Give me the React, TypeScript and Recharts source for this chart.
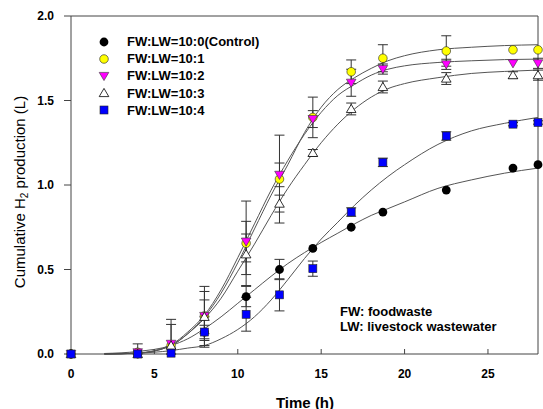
import React from 'react'
import { ComposedChart, Line, Scatter, XAxis, YAxis, ErrorBar, ReferenceLine } from 'recharts'

// sampling times (h)
const times = [0, 4, 6, 8, 10.5, 12.5, 14.5, 16.8, 18.7, 22.5, 26.5, 28]

// measured cumulative H2 (L)
const control = [0, 0, 0.03, 0.13, 0.34, 0.5, 0.625, 0.75, 0.84, 0.97, 1.1, 1.12]
const fw1 = [0, 0.01, 0.05, 0.225, 0.655, 1.035, 1.4, 1.67, 1.75, 1.793, 1.8, 1.8]
const fw2 = [0, 0.01, 0.06, 0.225, 0.665, 1.06, 1.39, 1.605, 1.686, 1.714, 1.72, 1.72]
const fw3 = [0, 0, 0.05, 0.22, 0.59, 0.89, 1.19, 1.45, 1.58, 1.63, 1.65, 1.65]
const fw4 = [0, 0, 0.005, 0.13, 0.235, 0.35, 0.505, 0.84, 1.134, 1.29, 1.36, 1.37]

// error bar half-lengths
const controlErr = [0, 0, 0, 0.04, 0.06, 0.06, 0, 0, 0, 0, 0, 0]
const fw1Err = [0, 0.05, 0.155, 0.175, 0.25, 0.26, 0.12, 0.07, 0.08, 0.09, 0, 0]
const fw2Err = [0, 0, 0.115, 0.145, 0.12, 0.07, 0.05, 0.08, 0.03, 0.03, 0, 0.03]
const fw3Err = [0, 0, 0, 0.1, 0.12, 0.05, 0.02, 0.035, 0.035, 0.035, 0.02, 0.03]
const fw4Err = [0, 0, 0, 0.09, 0.1, 0.095, 0.045, 0.025, 0.025, 0.025, 0.01, 0.01]

// fitted curves
const fitTimes = [2, 4, 6, 7, 8, 9, 10, 11, 12, 13, 14, 15, 16, 17, 18, 19, 20, 22, 24, 26, 28]
const controlFit = [0.003, 0.015, 0.05, 0.09, 0.15, 0.22, 0.3, 0.38, 0.46, 0.535, 0.6, 0.66, 0.715, 0.77, 0.82, 0.86, 0.9, 0.98, 1.03, 1.07, 1.1]
const fw1Fit = [0, 0.005, 0.05, 0.12, 0.22, 0.36, 0.54, 0.74, 0.94, 1.12, 1.31, 1.46, 1.565, 1.635, 1.69, 1.735, 1.765, 1.8, 1.815, 1.825, 1.83]
const fw2Fit = [0, 0.006, 0.055, 0.13, 0.23, 0.38, 0.57, 0.77, 0.97, 1.145, 1.3, 1.43, 1.53, 1.595, 1.65, 1.685, 1.705, 1.725, 1.735, 1.742, 1.745]
const fw3Fit = [0, 0.005, 0.05, 0.12, 0.21, 0.33, 0.49, 0.65, 0.82, 0.98, 1.12, 1.25, 1.36, 1.45, 1.52, 1.57, 1.6, 1.635, 1.66, 1.672, 1.68]
const fw4Fit = [0, 0.005, 0.02, 0.035, 0.05, 0.09, 0.145, 0.22, 0.32, 0.44, 0.565, 0.68, 0.78, 0.88, 0.97, 1.05, 1.12, 1.24, 1.32, 1.365, 1.4]

const xTicks = [0, 5, 10, 15, 20, 25]
const yTicks = [0, 0.5, 1, 1.5, 2]

const labels = ['FW:LW=10:0(Control)', 'FW:LW=10:1', 'FW:LW=10:2', 'FW:LW=10:3', 'FW:LW=10:4']

const FONT = '"Liberation Sans", Arial, sans-serif'
const AXIS = '#444'

// lower whisker never goes below zero
const toPoints = (ys: number[], errs: number[]) =>
  times.map((t, i) => ({ t, y: ys[i], err: errs[i] ? [Math.min(errs[i], ys[i]), errs[i]] : 0 }))
const toCurve = (ys: number[]) => fitTimes.map((t, i) => ({ t, y: ys[i] }))

function marker(kind: number, cx: number, cy: number) {
  if (kind === 0) return <circle cx={cx} cy={cy} r={4.4} fill="#000" />
  if (kind === 1) return <circle cx={cx} cy={cy} r={4.3} fill="#ffff00" stroke="#222" strokeWidth={0.6} />
  if (kind === 2)
    return (
      <path
        d={`M${cx - 4.8},${cy - 3.6}L${cx + 4.8},${cy - 3.6}L${cx},${cy + 4.6}Z`}
        fill="#ff00ff"
        stroke="#333"
        strokeWidth={0.6}
      />
    )
  if (kind === 3)
    return (
      <path
        d={`M${cx - 4.8},${cy + 3.6}L${cx + 4.8},${cy + 3.6}L${cx},${cy - 4.6}Z`}
        fill="#fff"
        stroke="#000"
        strokeWidth={0.8}
      />
    )
  return <rect x={cx - 4} y={cy - 4} width={8} height={8} fill="#0000ff" stroke="#222" strokeWidth={0.6} />
}

const shapeFor = (kind: number) => (p: any) => marker(kind, p.cx, p.cy)

export default function App() {
  const series = [
    { pts: toPoints(control, controlErr), fit: toCurve(controlFit) },
    { pts: toPoints(fw1, fw1Err), fit: toCurve(fw1Fit) },
    { pts: toPoints(fw2, fw2Err), fit: toCurve(fw2Fit) },
    { pts: toPoints(fw3, fw3Err), fit: toCurve(fw3Fit) },
    { pts: toPoints(fw4, fw4Err), fit: toCurve(fw4Fit) },
  ]

  return (
    <div style={{ position: 'absolute', left: 0, top: 0, width: 543, height: 409, background: '#fff', fontFamily: FONT }}>
      <ComposedChart width={543} height={409} margin={{ top: 16, right: 5, bottom: 25, left: 11 }}>
        <XAxis
          type="number"
          dataKey="t"
          domain={[0, 28]}
          ticks={xTicks}
          height={30}
          stroke={AXIS}
          tickSize={-5}
          tickMargin={20}
          tick={{ fill: '#000', fontSize: 12, fontWeight: 'bold', fontFamily: FONT }}
        />
        <YAxis
          type="number"
          domain={[0, 2]}
          ticks={yTicks}
          width={60}
          stroke={AXIS}
          tickSize={7}
          tickMargin={10}
          tickFormatter={(v: number) => v.toFixed(1)}
          tick={{ fill: '#000', fontSize: 12, fontWeight: 'bold', fontFamily: FONT }}
        />
        <ReferenceLine y={2} stroke={AXIS} />
        <ReferenceLine x={28} stroke={AXIS} />
        {series.map((s, i) => (
          <Line
            key={'fit' + i}
            data={s.fit}
            dataKey="y"
            type="monotone"
            stroke="#555"
            strokeWidth={1}
            dot={false}
            activeDot={false}
            isAnimationActive={false}
          />
        ))}
        {series.map((s, i) => (
          <Scatter key={'pts' + i} data={s.pts} dataKey="y" shape={shapeFor(i)} isAnimationActive={false}>
            <ErrorBar dataKey="err" direction="y" width={5} stroke="#333" strokeWidth={1} />
          </Scatter>
        ))}
      </ComposedChart>

      {/* legend */}
      <div style={{ position: 'absolute', left: 96, top: 33 }}>
        {labels.map((l, i) => (
          <div key={l} style={{ display: 'flex', alignItems: 'center', height: 17.2 }}>
            <svg width={16} height={14} style={{ marginRight: 15 }}>
              {marker(i, 8, 7)}
            </svg>
            <span style={{ fontSize: 13, fontWeight: 'bold', color: '#000', whiteSpace: 'nowrap' }}>{l}</span>
          </div>
        ))}
      </div>

      {/* note */}
      <div style={{ position: 'absolute', left: 340, top: 305, fontSize: 13, fontWeight: 'bold', lineHeight: '14.5px', whiteSpace: 'nowrap' }}>
        <div>FW: foodwaste</div>
        <div>LW: livestock wastewater</div>
      </div>

      {/* axis titles */}
      <div
        style={{
          position: 'absolute',
          left: 305,
          top: 402,
          transform: 'translate(-50%, -50%)',
          fontSize: 15,
          fontWeight: 'bold',
          whiteSpace: 'nowrap',
        }}
      >
        Time (h)
      </div>
      <div
        style={{
          position: 'absolute',
          left: 22,
          top: 192,
          transform: 'translate(-50%, -50%) rotate(-90deg)',
          fontSize: 15,
          whiteSpace: 'nowrap',
          lineHeight: '18px',
        }}
      >
        Cumulative H<sub style={{ fontSize: 10, verticalAlign: '-3px' }}>2</sub> production (L)
      </div>
    </div>
  )
}
